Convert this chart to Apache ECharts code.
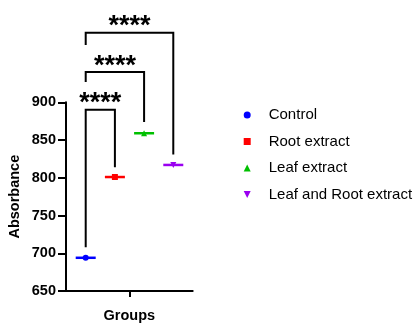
<!DOCTYPE html>
<html>
<head>
<meta charset="utf-8">
<script src="https://cdn.jsdelivr.net/npm/echarts@6/dist/echarts.min.js"></script>
<style>
html,body{margin:0;padding:0;background:#fff;}
#chart{width:417px;height:323px;}
</style>
</head>
<body>
<div id="chart"></div>
<script>
// ---- data ----
const groups = ['Control', 'Root extract', 'Leaf extract', 'Leaf and Root extract'];
const means = [694, 801, 859, 817];
const colors = ['#0000ff', '#ff0000', '#00c000', '#9a00f0'];
const yTicks = [650, 700, 750, 800, 850, 900];
// significance brackets: [group A, group B]
const comparisons = [[0, 1], [0, 2], [0, 3]];
const bracketTops = [890, 940, 992];
const bracketLeftEnds = [708, 927, 976];
const bracketRightEnds = [814, 874, 831];
const sigLabels = ['****', '****', '****'];
const xAxisTitle = 'Groups';
const yAxisTitle = 'Absorbance';

const FONT = '"Liberation Sans", Arial, sans-serif';
const symbols = ['circle', 'rect', 'triangle', 'path://M0,0L10,0L5,10Z'];

const chart = echarts.init(document.getElementById('chart'), null, {renderer: 'canvas'});

const markerSeries = groups.map((g, i) => ({
  name: g,
  type: 'scatter',
  data: [[i, means[i]]],
  symbol: symbols[i],
  symbolSize: 6,
  itemStyle: {color: colors[i], opacity: 1},
  z: 5,
  silent: true
}));

const meanLineSeries = {
  type: 'custom',
  name: 'means',
  clip: false,
  silent: true,
  data: means.map((m, i) => [i, m]),
  renderItem: function (params, api) {
    const i = api.value(0);
    const p = api.coord([i, api.value(1)]);
    return {
      type: 'line',
      shape: {x1: p[0] - 10, y1: p[1], x2: p[0] + 10, y2: p[1]},
      style: {stroke: colors[i], lineWidth: 2.5}
    };
  },
  z: 4
};

const bracketSeries = {
  type: 'custom',
  name: 'brackets',
  clip: false,
  silent: true,
  data: comparisons.map((c, k) => [c[0], c[1], bracketTops[k], bracketLeftEnds[k], bracketRightEnds[k], k]),
  renderItem: function (params, api) {
    const a = api.value(0), b = api.value(1), top = api.value(2), le = api.value(3), re = api.value(4);
    const k = api.value(5);
    const pLB = api.coord([a, le]);
    const pLT = api.coord([a, top]);
    const pRT = api.coord([b, top]);
    const pRB = api.coord([b, re]);
    return {
      type: 'group',
      children: [
        {
          type: 'polyline',
          shape: {points: [pLB, pLT, pRT, pRB]},
          style: {stroke: '#000', lineWidth: 2, fill: null, lineJoin: 'miter'}
        },
        {
          type: 'text',
          style: {
            text: sigLabels[k],
            x: (pLT[0] + pRT[0]) / 2,
            y: pLT[1] - 6,
            align: 'center',
            verticalAlign: 'middle',
            font: 'bold 27px ' + FONT,
            fill: '#000'
          }
        }
      ]
    };
  },
  z: 3
};

const option = {
  animation: false,
  backgroundColor: '#fff',
  grid: {left: 66, right: 224.3, top: 102.3, bottom: 32, containLabel: false, outerBoundsMode: 'none'},
  xAxis: {
    type: 'value',
    min: -0.675,
    max: 3.665,
    name: xAxisTitle,
    nameLocation: 'middle',
    nameGap: 17,
    nameTextStyle: {fontFamily: FONT, fontWeight: 'bold', fontSize: 14.5, color: '#000'},
    axisLine: {show: true, onZero: false, lineStyle: {color: '#000', width: 2}},
    axisTick: {show: true, customValues: [1.5], length: 6, lineStyle: {color: '#000', width: 2}},
    axisLabel: {show: false},
    splitLine: {show: false}
  },
  yAxis: {
    type: 'value',
    min: 650,
    max: 900,
    interval: 50,
    name: yAxisTitle,
    nameLocation: 'middle',
    nameGap: 44,
    nameRotate: 90,
    nameTextStyle: {fontFamily: FONT, fontWeight: 'bold', fontSize: 14.5, color: '#000'},
    axisLine: {show: true, onZero: false, lineStyle: {color: '#000', width: 2}},
    axisTick: {show: true, length: 8, lineStyle: {color: '#000', width: 2}},
    axisLabel: {
      margin: 10,
      fontFamily: FONT, fontWeight: 'bold', fontSize: 14.5, color: '#000',
      customValues: yTicks
    },
    splitLine: {show: false}
  },
  legend: {
    orient: 'vertical',
    left: 243.7,
    top: 107,
    padding: 0,
    itemWidth: 7,
    itemHeight: 7,
    itemGap: 10.5,
    selectedMode: false,
    textStyle: {fontFamily: FONT, fontSize: 15, color: '#000', lineHeight: 16, padding: [0, 0, 0, 13]},
    data: groups.map((g, i) => ({name: g, icon: symbols[i], itemStyle: {color: colors[i]}}))
  },
  series: [bracketSeries, meanLineSeries].concat(markerSeries)
};

chart.setOption(option);
</script>
</body>
</html>
